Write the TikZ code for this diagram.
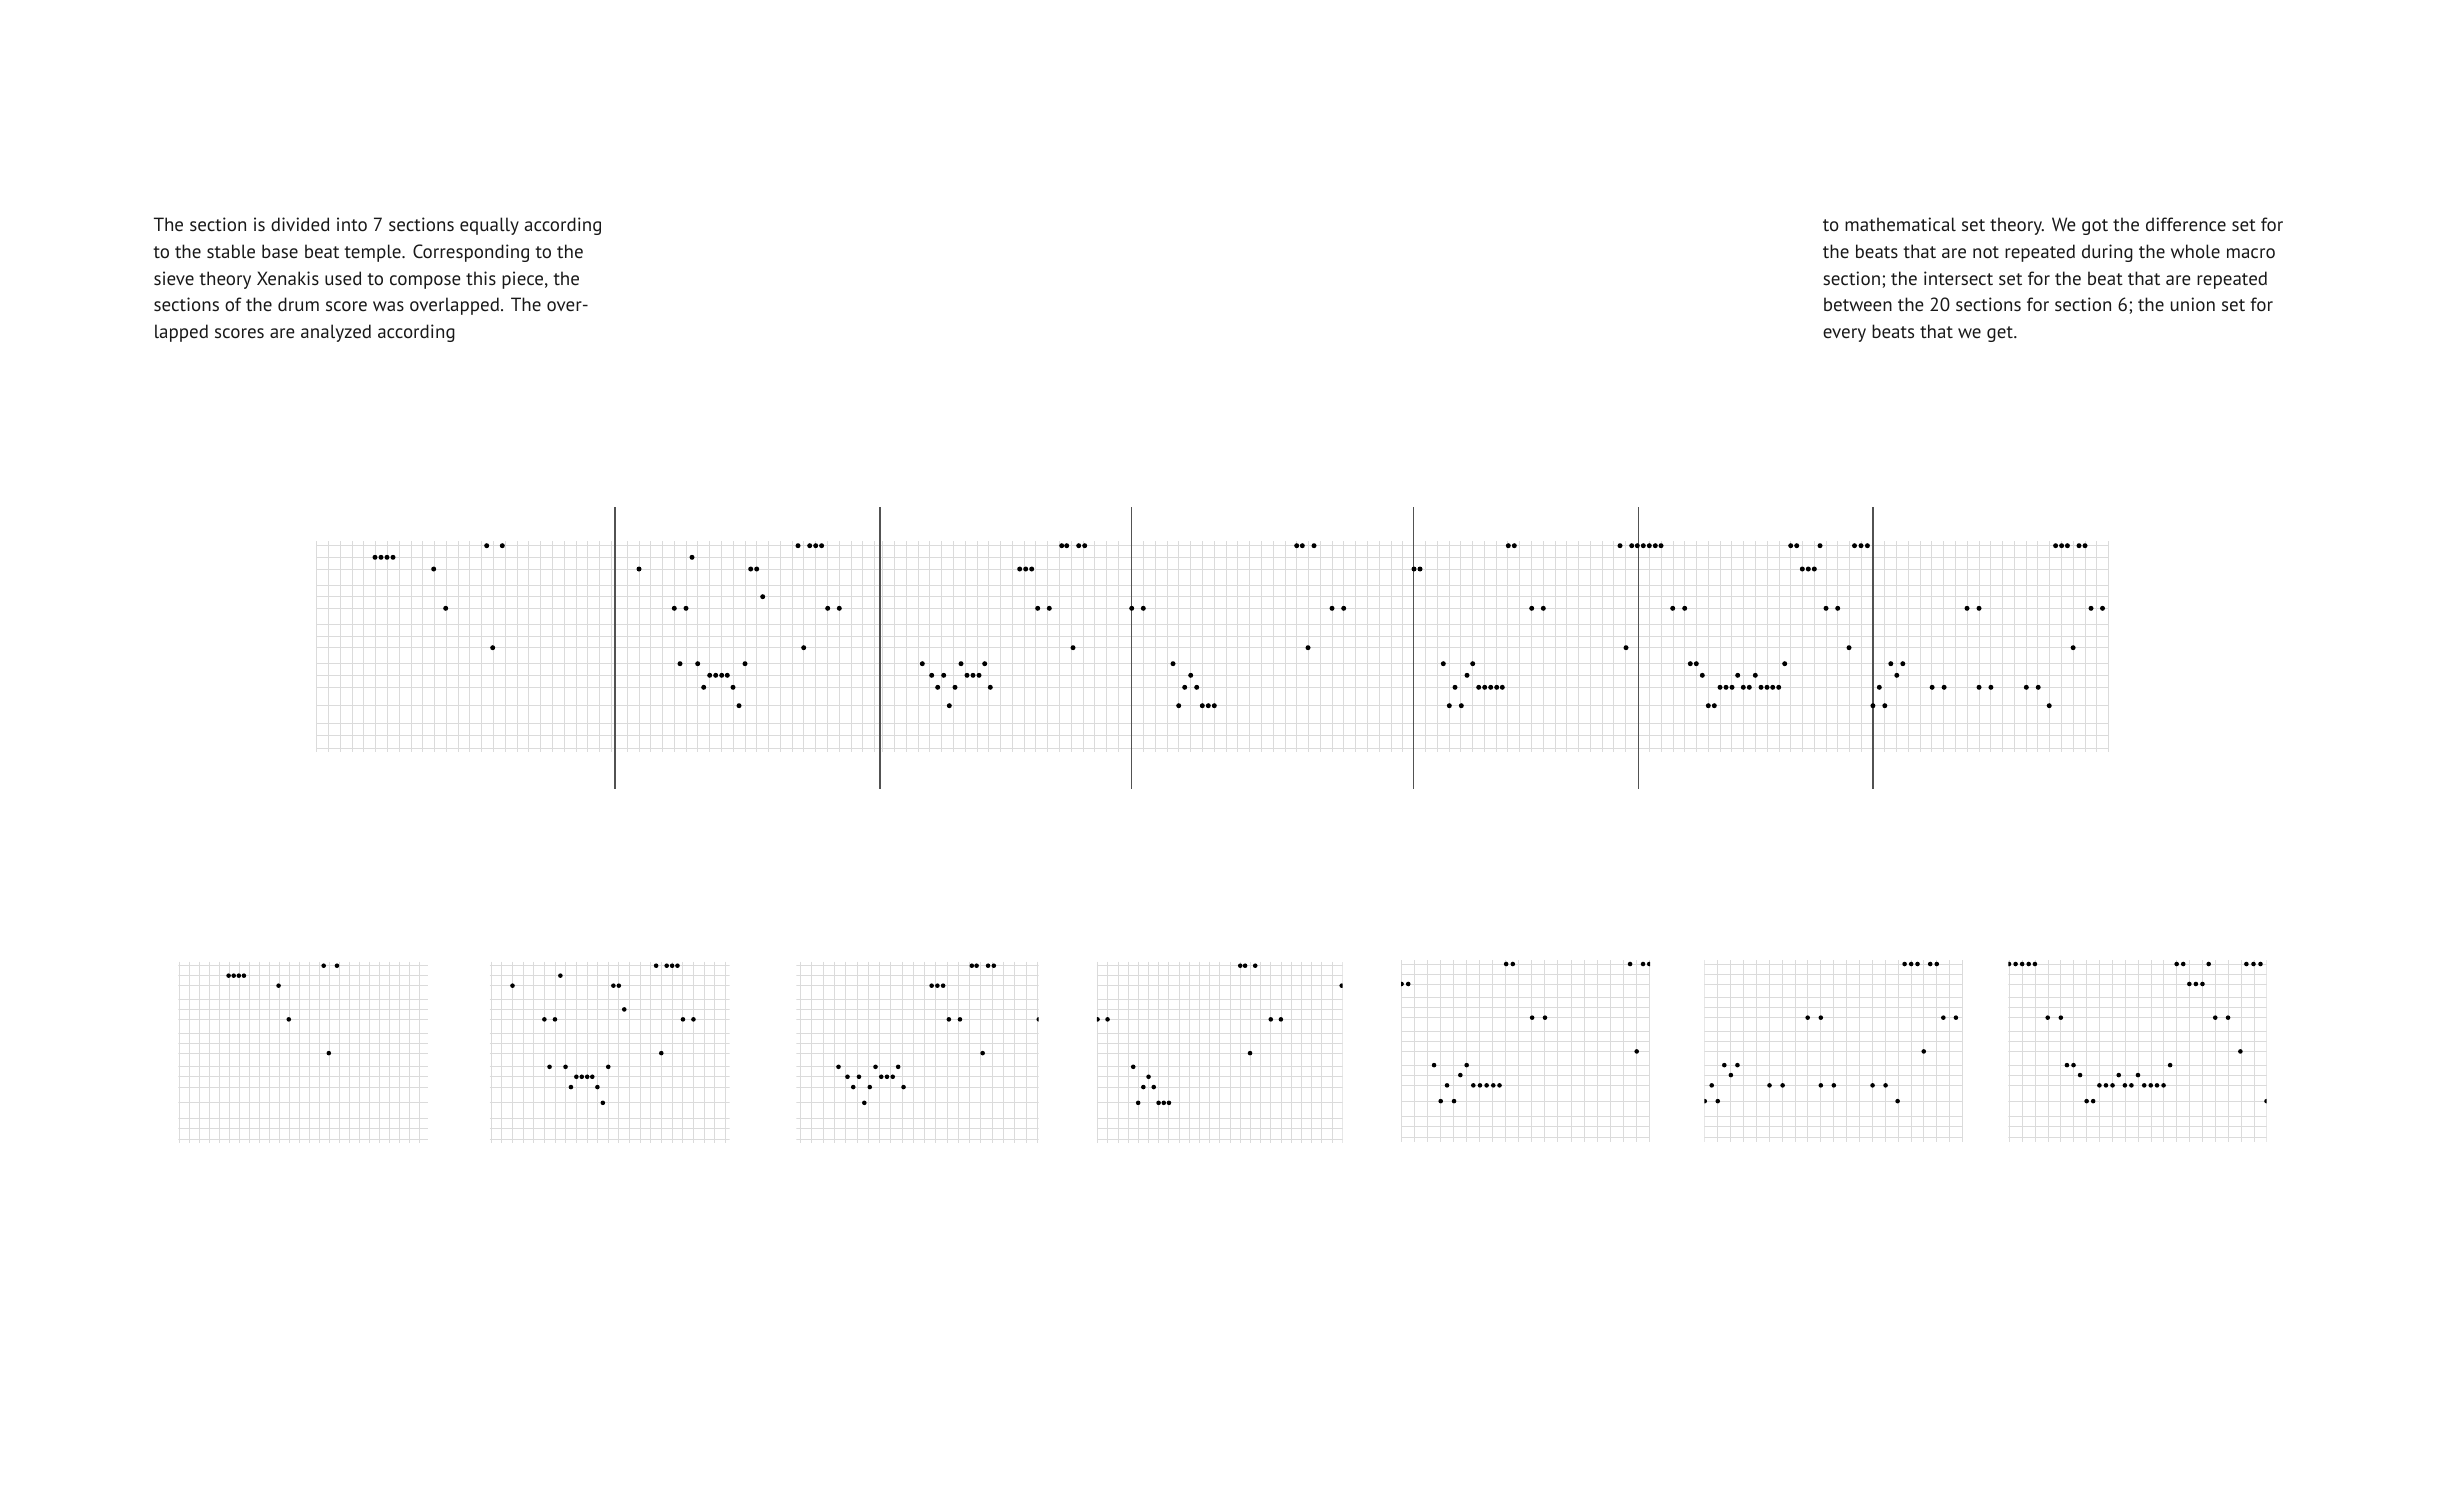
\documentclass[tikz,border=0pt]{standalone}
\usepackage{fontspec}
\setmainfont{PT Sans}
\tikzset{
  gridline/.style={draw=black!14, line width=0.7pt},
  divider/.style={draw=black!68, line width=1.3pt},
  bodytext/.style={anchor=base west, inner sep=0pt, font=\fontsize{19.05}{26.7}\selectfont, text=black!90},
}
\def\rowlist{545.7,557.3,569.0,585.0,596.7,608.3,624.3,636.0,647.7,663.7,675.3,687.3,705.7,723.3,735.7,748.3}
\def\rowarr{{545.7,557.3,569.0,585.0,596.7,608.3,624.3,636.0,647.7,663.7,675.3,687.3,705.7,723.3,735.7,748.3}}
\def\dotlist{486.7/1,502.3/1,375/2,381/2,387/2,393/2,433.7/3,445.7/6,492.7/9,%
798/1,809.7/1,815.7/1,821.6/1,692/2,639/3,750.7/3,756.7/3,762.7/5,674.3/6,686/6,827.7/6,839.3/6,803.7/9,680/10,697.7/10,745/10,709.7/11,715.7/11,721.7/11,727.3/11,703.7/12,733/12,739/13,%
1061.7/1,1066.7/1,1078.7/1,1084.7/1,1019.7/3,1025.7/3,1031.7/3,1037.7/6,1049.3/6,1073/9,922.3/10,961/10,984.7/10,931.7/11,943.7/11,967/11,973/11,979/11,937.7/12,955/12,990.3/12,949.3/13,%
1296.7/1,1302.3/1,1314/1,1131.7/6,1143.3/6,1332/6,1343.7/6,1308/9,1173/10,1190.7/11,1184.7/12,1196.7/12,1178.7/13,1202.3/13,1208.3/13,1214.3/13,%
1414/3,1420/3,1508.3/1,1514.3/1,1620/1,1631.7/1,1531.7/6,1543.3/6,1626/9,1443.3/10,1472.7/10,1467/11,1455/12,1478.7/12,1484.7/12,1490.7/12,1496.7/12,1502.3/12,1449.3/13,1461.3/13,%
1637.3/1,1643.3/1,1649.3/1,1655.3/1,1661/1,1790.7/1,1796.7/1,1820/1,1854.5/1,1861/1,1867.4/1,1802.3/3,1808.3/3,1814.3/3,1672.7/6,1684.7/6,1826/6,1837.7/6,1849/9,1690.3/10,1696.3/10,1784.7/10,1702.3/11,1737.7/11,1755.3/11,1720/12,1726/12,1732/12,1743.3/12,1749.3/12,1761/12,1767/12,1772.7/12,1778.7/12,1708.3/13,1714.3/13,%
2055.6/1,2061.6/1,2067.4/1,2079/1,2085/1,1967/6,1979/6,2091/6,2102.5/6,2073.1/9,1890.8/10,1902.8/10,1896.8/11,1879.3/12,1932.1/12,1944.1/12,1979/12,1990.9/12,2026.3/12,2038.2/12,1872.9/13,1884.8/13,2049.2/13}
% #1 T0 (top anchor x), #2 B0 (bottom anchor x), #3 compression, #4 bottom top-row y, #5 left, #6 right, #7 grid origin (top)
\newcommand\bottomgrid[7]{%
  \begin{scope}
    \clip (#5,950) rectangle (#6,1150);
    \foreach \yy in \rowlist {%
      \pgfmathsetmacro\by{#4+(\yy-545.7)*0.857}
      \draw[gridline] (#5,\by) -- (#6,\by);}
    \foreach \j in {-3,...,30} {%
      \pgfmathsetmacro\bx{#2+(#7+\j*11.78-#1)/#3}
      \draw[gridline] (\bx,{#4-4}) -- (\bx,{#4+177.6});}
    \foreach \x/\r in \dotlist {%
      \pgfmathsetmacro\yy{\rowarr[\r-1]}
      \pgfmathsetmacro\bx{#2+(\x-#1)/#3}
      \pgfmathsetmacro\by{#4+(\yy-545.7)*0.857}
      \fill[black] (\bx,\by) circle[radius=2.3pt];}
  \end{scope}}
\begin{document}
\begin{tikzpicture}[x=1pt,y=-1pt]
\useasboundingbox (0,0) rectangle (2440,1504);
\fill[white] (0,0) rectangle (2440,1504);
% text
\node[bodytext] (l1) at (153.3,231.7) {The section is divided into 7 sections equally according};
\node[bodytext] (l2) at (153.3,258.4) {to the stable base beat temple. Corresponding to the};
\node[bodytext] (l3) at (153.3,285.0) {sieve theory Xenakis used to compose this piece, the};
\node[bodytext] (l4) at (153.3,311.7) {sections of the drum score was overlapped. The over-};
\node[bodytext] (l5) at (153.3,338.4) {lapped scores are analyzed according};
\node[bodytext] (r1) at (1822.7,231.7) {to mathematical set theory. We got the difference set for};
\node[bodytext] (r2) at (1822.7,258.4) {the beats that are not repeated during the whole macro};
\node[bodytext] (r3) at (1822.7,285.0) {section; the intersect set for the beat that are repeated};
\node[bodytext] (r4) at (1822.7,311.7) {between the 20 sections for section 6; the union set for};
\node[bodytext] (r5) at (1822.7,338.4) {every beats that we get.};
% top grid
\foreach \yy in \rowlist {\draw[gridline] (316.7,\yy) -- (2109.4,\yy);}
\foreach \O/\a/\b in {316.7/0/25,615.3/1/22,882.6/0/20,1131.7/1/23,1413.5/1/18,1637.5/1/19,1872.9/1/20} {%
  \foreach \j in {\a,...,\b} {\draw[gridline] ({\O+\j*11.78},541) -- ({\O+\j*11.78},752);}}
\foreach \dx in {615,880,1131.7,1413.3,1638.3,1872.9} {\draw[divider] (\dx,507.3) -- (\dx,789.3);}
\foreach \x/\r in \dotlist {%
  \pgfmathsetmacro\yy{\rowarr[\r-1]}
  \fill[black] (\x,\yy) circle[radius=2.5pt];}
% bottom grids
\bottomgrid{375}{228.6}{1.1747}{965.7}{178.4}{428.3}{316.7}
\bottomgrid{639}{512.5}{1.107}{965.7}{489.6}{729.5}{615.3}
\bottomgrid{922.3}{838.5}{1.0457}{965.7}{796.4}{1038.6}{882.6}
\bottomgrid{1131.7}{1097.5}{1.156}{965.7}{1096.8}{1342.5}{1131.7}
\bottomgrid{1420}{1408.2}{0.9015}{964}{1401}{1650.1}{1413.5}
\bottomgrid{1890.8}{1724.3}{0.914}{964}{1704.4}{1963.3}{1872.9}
\bottomgrid{1672.7}{2047.7}{0.915}{964}{2008.3}{2266.7}{1637.5}
\end{tikzpicture}
\end{document}
